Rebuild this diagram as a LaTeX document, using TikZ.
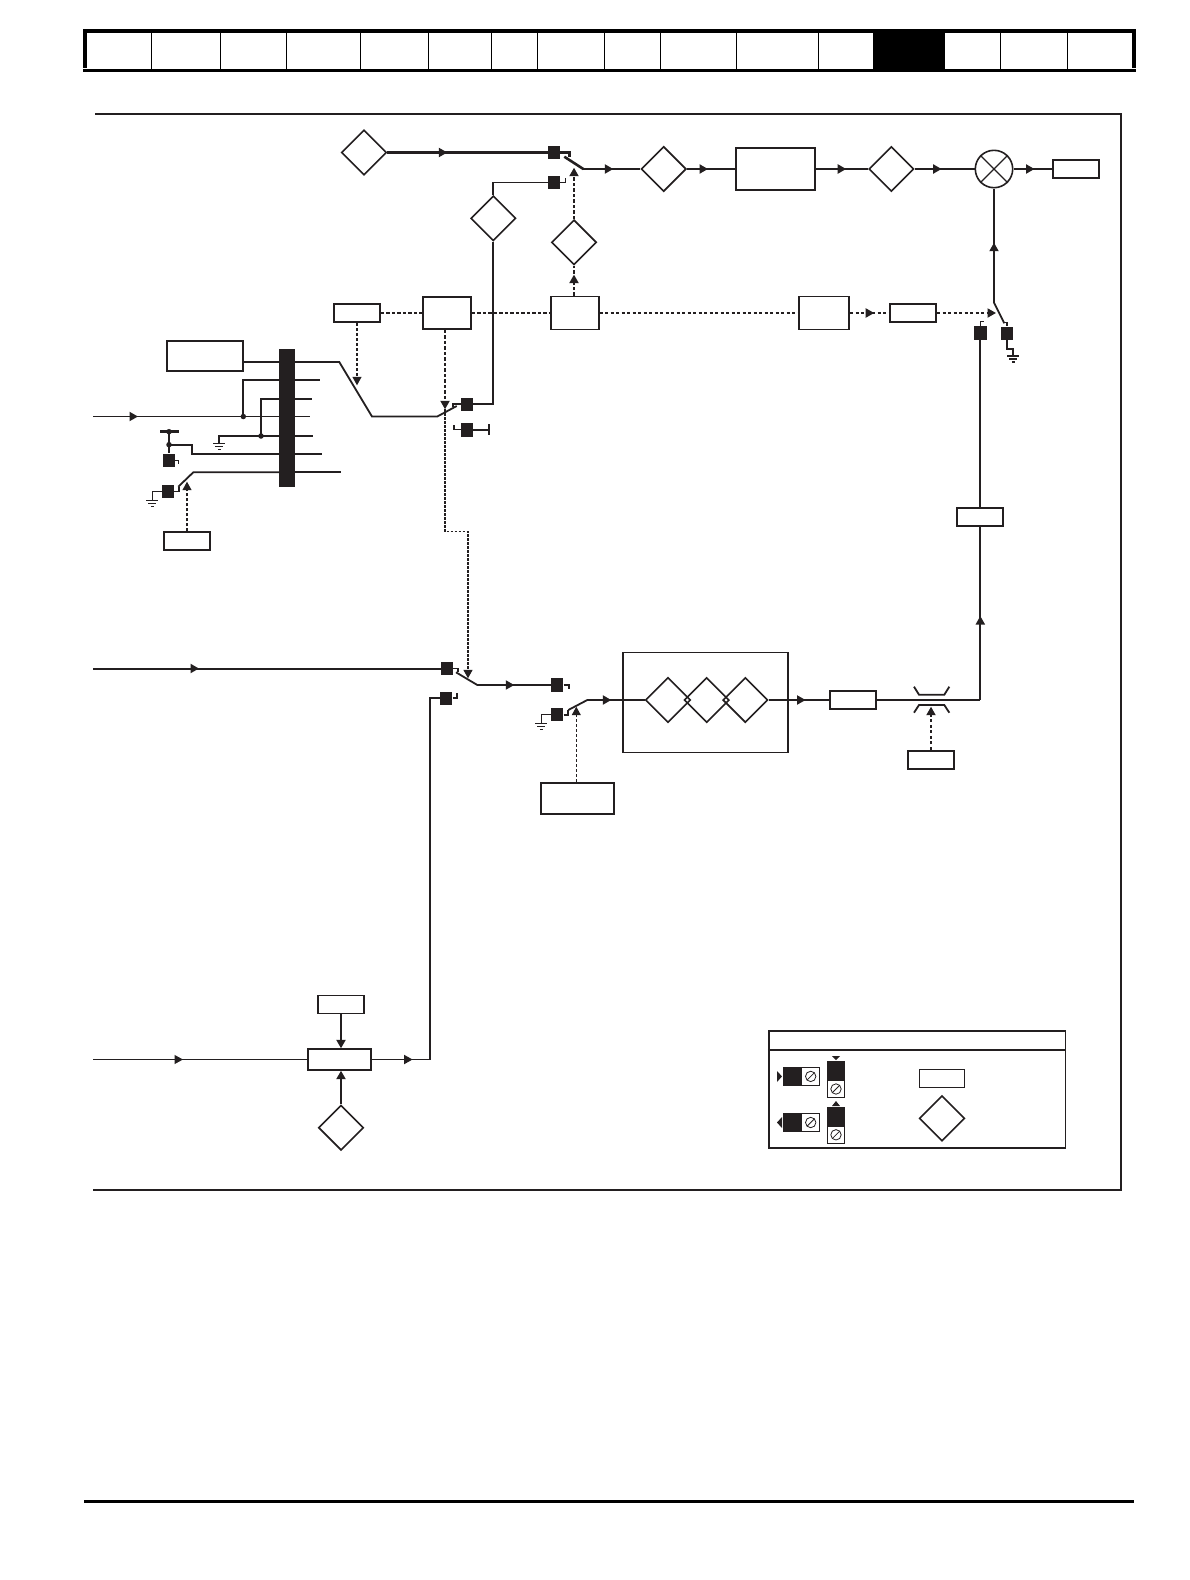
\documentclass[tikz,border=0pt]{standalone}
\usetikzlibrary{shapes.geometric,arrows.meta,decorations.markings}
\definecolor{ink}{HTML}{231F20}
\tikzset{
  wirethin/.style={draw=ink,line width=1.2pt},
  wire/.style={draw=ink,line width=1.8pt},
  wirebold/.style={draw=ink,line width=2.6pt},
  ctrlthin/.style={draw=ink,line width=1.1pt,dash pattern=on 3pt off 2pt},
  ctrlmid/.style={draw=ink,line width=1.5pt,dash pattern=on 2.5pt off 1.5pt},
  ctrlbold/.style={draw=ink,line width=1.9pt,dash pattern=on 3.2pt off 2.3pt},
  tipend/.style={-{Triangle[length=8.5pt,width=9pt]}},
  midarrow/.style={postaction={decorate},decoration={markings,
    mark=at position #1 with {\arrow{Triangle[length=8.5pt,width=9pt]}}}},
  termbox/.style={fill=ink,inner sep=0pt,minimum width=12.5pt,minimum height=13.5pt},
  parambox/.style={draw=ink,line width=1.8pt,fill=white,inner sep=0pt,minimum width=46pt,minimum height=18pt},
  midbox/.style={parambox,minimum width=48pt,minimum height=32pt},
  paramdiamond/.style={diamond,draw=ink,line width=1.6pt,inner sep=0pt,minimum width=45pt,minimum height=45pt},
  jointdot/.style={circle,fill=ink,inner sep=0pt,minimum size=5.5pt},
  legendcell/.style={draw=ink,line width=1.1pt,inner sep=0pt}
}
\newcommand{\gndmark}[1]{
  \draw[wirethin] ([xshift=-6pt]#1) -- ([xshift=6pt]#1);
  \draw[wirethin] ([xshift=-4pt,yshift=-3pt]#1) -- ([xshift=4pt,yshift=-3pt]#1);
  \draw[wirethin] ([xshift=-1.5pt,yshift=-6pt]#1) -- ([xshift=1.5pt,yshift=-6pt]#1);
}
\newcommand{\screwmark}[1]{
  \draw[ink,line width=.8pt] (#1.center) circle (5.2pt);
  \draw[ink,line width=.8pt] ([xshift=-3.7pt,yshift=-3.7pt]#1.center) -- ([xshift=3.7pt,yshift=3.7pt]#1.center);
}
\begin{document}
\begin{tikzpicture}[x=1pt,y=-1pt]
\useasboundingbox (0,0) rectangle (1190,1580);

\fill (83,29.3) rectangle (1135.5,33);
\fill (83,69.2) rectangle (1135.5,72.3);
\fill (83,29.3) rectangle (87,68.2);
\fill (1132,29.3) rectangle (1135.5,68.2);
\fill (873,29.3) rectangle (945,72.3);
\foreach \sepx in {151.6,220.5,286.6,360.3,428.5,491,537.3,604.5,660.3,736.4,818.3,1000,1067.3}
  \draw[line width=1pt] (\sepx,33) -- (\sepx,69.2);
\fill (84,1500) rectangle (1134,1503);
\draw[ink,line width=2.6pt] (95,114) -- (1121,114) -- (1121,1190) -- (93,1190);

\node[paramdiamond] (dRefA) at (364,152.5) {};
\node[paramdiamond] (dRefB) at (493.3,218.3) {};
\node[paramdiamond] (dSel) at (574,242.3) {};
\node[paramdiamond] (dGain) at (663.7,169) {};
\node[paramdiamond] (dTrim) at (891.3,169) {};
\node[paramdiamond] (dLimit) at (341,1127.7) {};
\node[paramdiamond] (dInA) at (668,700) {};
\node[paramdiamond] (dInB) at (706.7,700) {};
\node[paramdiamond] (dInC) at (745.3,700) {};
\node[draw=ink,line width=1.6pt,inner sep=0pt,minimum width=165pt,minimum height=100pt] (filtFrame) at (705.5,702.6) {};

\node[parambox] (pSource) at (357,313) {};
\node[midbox] (pMode) at (447,313) {};
\node[midbox,minimum height=33pt] (pSel) at (574.8,313) {};
\node[midbox,minimum width=50pt,minimum height=33pt] (pDelay) at (824.3,313) {};
\node[parambox] (pEnable) at (913.2,313) {};
\node[midbox,minimum width=79pt,minimum height=42pt] (rampBox) at (775.8,169) {};
\node[parambox] (pOut) at (1075.8,169) {};
\node[parambox,minimum width=76pt,minimum height=30.6pt] (dialBox) at (204.7,356) {};
\node[parambox] (pCtl) at (187,541.2) {};
\node[parambox,minimum width=73.6pt,minimum height=31.6pt] (selBox) at (577.5,798.5) {};
\node[parambox] (filtBox) at (852.8,700) {};
\node[parambox] (limBox) at (980.3,517.2) {};
\node[parambox] (pThrot) at (931,759.6) {};
\node[parambox] (pLimit) at (341,1004.5) {};
\node[parambox,minimum width=62.4pt,minimum height=20.6pt] (rateBox) at (339.5,1059.5) {};
\node[circle,draw=ink,line width=1.6pt,inner sep=0pt,minimum size=37.4pt] (mixer) at (994,169) {};

\node[termbox] (tmA) at (554,152.5) {};
\node[termbox] (tmB) at (554,182.5) {};
\node[termbox] (tmD) at (467,404.3) {};
\node[termbox] (tmE) at (467,429.8) {};
\node[termbox] (tmF) at (169,460.3) {};
\node[termbox] (tmK) at (168,491.5) {};
\node[termbox] (tmG) at (447,668.5) {};
\node[termbox] (tmH) at (446.2,698.3) {};
\node[termbox] (tmI) at (557.2,685) {};
\node[termbox] (tmJ) at (557.2,714.7) {};
\node[termbox] (tmL) at (980.3,333) {};
\node[termbox] (tmR) at (1007,333.3) {};
\node[fill=ink,inner sep=0pt,minimum width=16pt,minimum height=137.7pt] (bus) at (287,417.8) {};

\coordinate (inA) at (93,416.5);
\coordinate (inG) at (93,668.5);
\coordinate (inR) at (93,1059.5);
\coordinate (tapA) at (339.3,362);
\coordinate (tapB) at (372,416.5);
\coordinate (tapC) at (437.3,416.5);
\coordinate (swA) at (456.7,406);
\coordinate (stD) at (453.3,407);
\coordinate (stE) at (454,425);
\coordinate (stopE) at (489.3,429.8);
\coordinate (stopEa) at (489.3,424);
\coordinate (stopEb) at (489.3,435);
\coordinate (junA) at (243.3,416.5);
\coordinate (kneeA) at (243.3,380);
\coordinate (endA) at (320,380);
\coordinate (junB) at (261,436);
\coordinate (kneeB) at (261,398.7);
\coordinate (endB) at (311.7,398.7);
\coordinate (endC) at (310,416.5);
\coordinate (endD) at (312.7,436);
\coordinate (gndB) at (219.3,443.3);
\coordinate (junD) at (169,444.7);
\coordinate (topD) at (169,431.7);
\coordinate (barL) at (160,431.7);
\coordinate (barR) at (179,431.7);
\coordinate (kneeDa) at (191.7,444.7);
\coordinate (kneeDb) at (191.7,454);
\coordinate (endF) at (321.7,454);
\coordinate (stF) at (178.7,464);
\coordinate (kneeE) at (193.3,472.3);
\coordinate (swE) at (178.3,486.7);
\coordinate (endG) at (340.7,472.3);
\coordinate (stK) at (179,486.7);
\coordinate (gndK) at (152.3,500.5);
\coordinate (tipK) at (187,481.7);
\coordinate (tipA) at (357,385.3);
\coordinate (tipB) at (445,409.3);
\coordinate (bendA) at (445,531.7);
\coordinate (bendB) at (468,531.7);
\coordinate (tipC) at (468,678.3);
\coordinate (tipD) at (574,167.7);
\coordinate (tipE) at (996,313);
\coordinate (stA) at (569.3,156.5);
\coordinate (stB) at (565.7,178);
\coordinate (swM) at (564.3,156.7);
\coordinate (swN) at (583.3,169);
\coordinate (swTop) at (994,302.7);
\coordinate (swBot) at (1004.3,323.3);
\coordinate (stR) at (1002.7,322.3);
\coordinate (kneeR) at (1013.3,349.3);
\coordinate (gndR) at (1013.3,356);
\coordinate (stL) at (984.3,321.3);
\coordinate (stG) at (458.3,671.7);
\coordinate (stH) at (457.3,693.3);
\coordinate (stI) at (569,689.3);
\coordinate (stJ) at (568.3,710);
\coordinate (swG) at (456,672.3);
\coordinate (swH) at (477.3,685);
\coordinate (swK) at (587.3,700);
\coordinate (gndJ) at (541.3,723.5);
\coordinate (tipF) at (576.3,706.7);
\coordinate (cornerQ) at (980.3,700);
\coordinate (tipT) at (931,706.7);
\coordinate (kneeJ) at (430,1059.5);

\draw[wirebold,midarrow=60pt] (dRefA.east) -- (tmA.west);
\draw[wirebold] (tmA.east) -| (stA);
\draw[wirebold] (swM) -- (swN);
\draw[wirebold,midarrow=30pt] (swN) -- (dGain.west);
\draw[wirebold,midarrow=21pt] (dGain.east) -- (rampBox.west);
\draw[wirebold,midarrow=30pt] (rampBox.east) -- (dTrim.west);
\draw[wirebold,midarrow=27pt] (dTrim.east) -- (mixer.west);
\draw[wirebold,midarrow=21pt] (mixer.east) -- (pOut.west);
\draw[wirethin] (mixer.north east) -- (mixer.south west);
\draw[wirethin] (mixer.north west) -- (mixer.south east);
\draw[wire] (tmB.west) -| (dRefB.north);
\draw[wirethin] (tmB.east) -| (stB);
\draw[wire] (dRefB.south) |- (tmD.east);
\draw[wire] (tmD.west) -| (stD);
\draw[wirethin] (tmE.west) -| (stE);
\draw[wire] (tmE.east) -- (stopE);
\draw[wire] (stopEa) -- (stopEb);

\draw[wire] (dialBox.east |- tapA) -- (bus.west |- tapA);
\draw[wire] (bus.east |- tapA) -- (tapA) -- (tapB) -- (tapC) -- (swA);
\draw[wire] (junA) -- (kneeA) -- (bus.west |- kneeA);
\draw[wire] (bus.east |- kneeA) -- (endA);
\draw[wire] (junB) -- (kneeB) -- (bus.west |- kneeB);
\draw[wire] (bus.east |- kneeB) -- (endB);
\draw[wire,midarrow=45pt] (inA) -- (bus.west |- inA);
\draw[wire] (bus.east |- inA) -- (endC);
\draw[wire] (gndB) |- (bus.west |- junB);
\draw[wire] (bus.east |- junB) -- (endD);
\gndmark{gndB}
\draw[wire] (junD) -- (kneeDa) -- (kneeDb) -- (bus.west |- kneeDb);
\draw[wire] (bus.east |- kneeDb) -- (endF);
\draw[wirebold] (barL) -- (barR);
\draw[wirebold] (topD) -- (tmF.north);
\draw[wirethin] (tmF.east) -| (stF);
\draw[wire] (swE) -- (kneeE) -- (bus.west |- kneeE);
\draw[wire] (bus.east |- kneeE) -- (endG);
\draw[wire] (tmK.east) -| (stK);
\draw[wirethin] (tmK.west) -| (gndK);
\gndmark{gndK}
\draw[ctrlthin,tipend] (pCtl.north) -- (tipK);
\node[jointdot] (jA) at (junA) {};
\node[jointdot] (jB) at (junB) {};
\node[jointdot] (jD) at (junD) {};
\node[jointdot] (jT) at (topD) {};

\draw[ctrlbold] (pSource.east) -- (pMode.west);
\draw[ctrlbold] (pMode.east) -- (pSel.west);
\draw[ctrlbold] (pSel.east) -- (pDelay.west);
\draw[ctrlbold,midarrow=24pt] (pDelay.east) -- (pEnable.west);
\draw[ctrlbold,tipend] (pEnable.east) -- (tipE);
\draw[ctrlthin,tipend] (pSource.south) -- (tipA);
\draw[ctrlbold,tipend] (pMode.south -| tipB) -- (tipB);
\draw[ctrlmid,tipend] (tipB) -- (bendA) -- (bendB) -- (tipC);
\draw[ctrlbold,midarrow=21pt] (pSel.north -| dSel) -- (dSel.south);
\draw[ctrlbold,tipend] (dSel.north) -- (tipD);

\draw[wire,midarrow=60pt] (swTop) -- (mixer.south);
\draw[wire] (swTop) -- (swBot);
\draw[wirethin] (stR) -| (tmR.north);
\draw[wire] (tmR.south) |- (kneeR) -- (gndR);
\gndmark{gndR}
\draw[wirethin] (tmL.north) |- (stL);
\draw[wire] (limBox.north) -- (tmL.south);
\draw[wire,midarrow=84pt] (cornerQ) -- (limBox.south);
\draw[wire] (filtBox.east) -- (cornerQ);
\draw[wire] (914,686.7) -- (919,694.7) -- (944.3,694.7) -- (949.3,686.7);
\draw[wire] (914,712.7) -- (919,705) -- (944.3,705) -- (949.3,712.7);
\draw[ctrlbold,tipend] (pThrot.north) -- (tipT);

\draw[wirebold,line width=2pt,midarrow=106pt] (inG) -- (tmG.west);
\draw[wire] (tmG.east) -| (stG);
\draw[wire] (swG) -- (swH);
\draw[wire,midarrow=37pt] (swH) -- (tmI.west);
\draw[wirethin] (tmI.east) -| (stI);
\draw[wire] (tmH.east) -| (stH);
\draw[wirethin] (tmJ.west) -| (gndJ);
\gndmark{gndJ}
\draw[wire] (tmJ.east) -| (stJ);
\draw[wire] (stJ) -- (swK);
\draw[wirebold,midarrow=24pt] (swK) -- (dInA.west);
\draw[ctrlthin,tipend] (selBox.north -| tipF) -- (tipF);
\draw[wire,midarrow=37pt] (dInC.east) -- (filtBox.west);

\draw[wirethin,midarrow=90pt] (inR) -- (rateBox.west);
\draw[wire,midarrow=41pt] (rateBox.east) -- (kneeJ) |- (tmH.west);
\draw[wirebold,tipend] (pLimit.south) -- (pLimit.south |- rateBox.north);
\draw[wirebold,tipend] (dLimit.north) -- (dLimit.north |- rateBox.south);

\node[draw=ink,line width=1.6pt,inner sep=0pt,minimum width=296.6pt,minimum height=117pt] (legBox) at (917,1089.5) {};
\coordinate (legHd) at (917,1050);
\draw[ink,line width=1.6pt] (legBox.west |- legHd) -- (legBox.east |- legHd);
\node[legendcell,minimum width=18pt,minimum height=18.7pt] (legInW) at (810.7,1076.4) {};
\node[fill=ink,inner sep=0pt,minimum width=18.7pt,minimum height=18.7pt] (legInK) at (792.3,1076.4) {};
\node[legendcell,minimum width=18pt,minimum height=18.7pt] (legOutW) at (810.7,1122.5) {};
\node[fill=ink,inner sep=0pt,minimum width=18.7pt,minimum height=18.7pt] (legOutK) at (792.3,1122.5) {};
\node[legendcell,minimum width=17.7pt,minimum height=17pt] (legDnW) at (836,1089) {};
\node[fill=ink,inner sep=0pt,minimum width=17.7pt,minimum height=19.7pt] (legDnK) at (836,1070.8) {};
\node[legendcell,minimum width=17.7pt,minimum height=17.5pt] (legUpW) at (836,1134.8) {};
\node[fill=ink,inner sep=0pt,minimum width=17.7pt,minimum height=19pt] (legUpK) at (836,1116.5) {};
\screwmark{legInW}
\screwmark{legOutW}
\screwmark{legDnW}
\screwmark{legUpW}
\fill[ink] (777,1071) -- (782,1076.4) -- (777,1082) -- cycle;
\fill[ink] (782,1117) -- (777,1122.5) -- (782,1128) -- cycle;
\fill[ink] (832,1056) -- (840,1056) -- (836,1060) -- cycle;
\fill[ink] (832,1106) -- (840,1106) -- (836,1101) -- cycle;
\node[parambox,line width=1.3pt,minimum width=45.4pt,minimum height=18.4pt] (legParam) at (942,1078.5) {};
\node[paramdiamond,minimum width=45.4pt,minimum height=45.4pt] (legDia) at (942,1118.3) {};
\end{tikzpicture}
\end{document}
